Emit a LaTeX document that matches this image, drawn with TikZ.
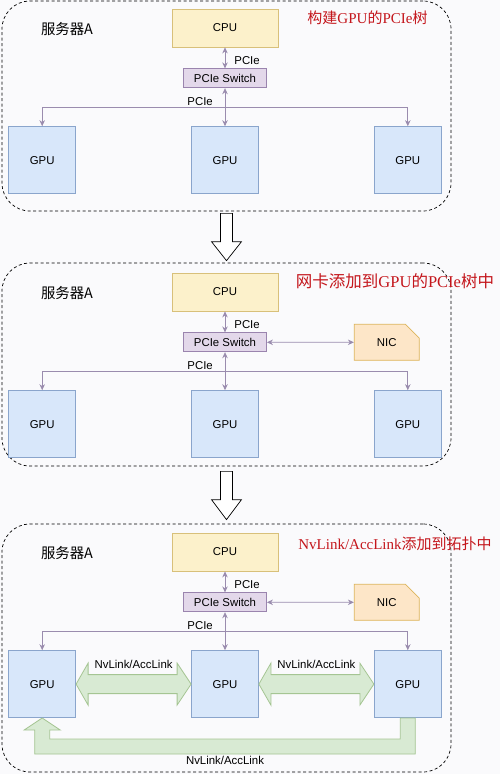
\documentclass[tikz,border=0pt]{standalone}
\usepackage{fontspec}
\setmainfont{Liberation Sans}
\newfontfamily\cjk{Noto Sans CJK SC}
\newfontfamily\titleserif{Liberation Serif}
\usetikzlibrary{positioning,calc,arrows.meta,shapes.misc}

\definecolor{bgcol}{HTML}{FAFAFC}
\definecolor{cpufill}{HTML}{FCF1CB}
\definecolor{cpuline}{HTML}{D8C07A}
\definecolor{swfill}{HTML}{E3D8EA}
\definecolor{swline}{HTML}{9A84AE}
\definecolor{gpufill}{HTML}{D8E7FA}
\definecolor{gpuline}{HTML}{8AA5CC}
\definecolor{nicfill}{HTML}{FDE6C8}
\definecolor{nicline}{HTML}{DDB45A}
\definecolor{nvfill}{HTML}{D8EAD3}
\definecolor{nvline}{HTML}{A5C593}
\definecolor{linkcol}{HTML}{9A8CAE}
\definecolor{titlered}{HTML}{C4161C}

\begin{document}
\begin{tikzpicture}[
        x=1pt, y=-1pt,
        >={Stealth[length=6pt,width=5.5pt]},
        box/.style={draw, line width=.8pt, inner sep=0pt, font=\fontsize{11.4}{13}\selectfont},
        cpubox/.style={box, fill=cpufill, draw=cpuline, minimum width=106pt, minimum height=38pt},
        swbox/.style={box, fill=swfill, draw=swline, minimum width=83pt, minimum height=19pt},
        gpubox/.style={box, fill=gpufill, draw=gpuline, minimum width=67pt, minimum height=67pt},
        nicbox/.style={box, fill=nicfill, draw=nicline, chamfered rectangle, chamfered rectangle corners=north east,
            chamfered rectangle sep=16pt, minimum width=65pt, minimum height=36pt},
        panel/.style={draw, dash pattern=on 3pt off 2.5pt, line width=.7pt, rounded corners=28pt, minimum width=449pt},
        pcie/.style={<->, draw=linkcol, line width=.8pt},
        nvlink/.style={draw=nvline, fill=nvfill, line width=.8pt},
        hollow/.style={draw, fill=white, line width=.7pt},
        lbl/.style={inner sep=1pt, font=\fontsize{11.4}{13}\selectfont},
        host/.style={inner sep=0pt, font=\cjk\fontsize{14.4}{16}\selectfont},
        title/.style={inner sep=0pt, text=titlered}
    ]
    \useasboundingbox (0,0) rectangle (500,774);
    \fill[bgcol] (0,0) rectangle (500,774);

    % --- Panels ---
    \node[panel, minimum height=210pt] (p1) at (226.5,106) {};
    \node[panel, minimum height=203pt] (p2) at (226.5,364.5) {};
    \node[panel, minimum height=248pt] (p3) at (226.5,648) {};

    % --- Step 1: PCIe tree ---
    \node[host] (host1) at (67,29) {服务器A};
    \node[title, font=\cjk\fontsize{15}{17}\selectfont] (t1) at (367.5,18) {构建{\titleserif GPU}的{\titleserif PCIe}树};
    \node[cpubox] (cpu1) at (225,28) {CPU};
    \node[swbox, below=21pt of cpu1] (sw1) {PCIe Switch};
    \node[gpubox, below=38pt of sw1] (g12) {GPU};
    \node[gpubox, left=115pt of g12] (g11) {GPU};
    \node[gpubox, right=115pt of g12] (g13) {GPU};

    \draw[pcie] (cpu1) -- node[lbl, right=8pt, pos=.65] {PCIe} (sw1);
    \draw[pcie] (sw1) -- (g12);
    \draw[pcie] (g11.north) -- ++(0,-19) -| node[lbl, above, pos=.216] {PCIe} (g13.north);

    % --- Step 2: NIC added ---
    \node[host] (host2) at (67,293) {服务器A};
    \node[title, font=\cjk\fontsize{16.5}{18}\selectfont] (t2) at (395,281) {网卡添加到{\titleserif GPU}的{\titleserif PCIe}树中};
    \node[cpubox] (cpu2) at (225,292) {CPU};
    \node[swbox, below=21pt of cpu2] (sw2) {PCIe Switch};
    \node[gpubox, below=38pt of sw2] (g22) {GPU};
    \node[gpubox, left=115pt of g22] (g21) {GPU};
    \node[gpubox, right=115pt of g22] (g23) {GPU};
    \node[nicbox, right=87pt of sw2] (nic2) {NIC};

    \draw[pcie] (cpu2) -- node[lbl, right=8pt, pos=.65] {PCIe} (sw2);
    \draw[pcie] (sw2) -- (g22);
    \draw[pcie] (sw2) -- (nic2);
    \draw[pcie] (g21.north) -- ++(0,-19) -| node[lbl, above, pos=.216] {PCIe} (g23.north);

    % --- Step 3: NvLink/AccLink added ---
    \node[host] (host3) at (67,553) {服务器A};
    \node[title, font=\cjk\fontsize{15}{17}\selectfont] (t3) at (395,544) {{\titleserif NvLink/AccLink}添加到拓扑中};
    \node[cpubox] (cpu3) at (225,552) {CPU};
    \node[swbox, below=21pt of cpu3] (sw3) {PCIe Switch};
    \node[gpubox, below=38pt of sw3] (g32) {GPU};
    \node[gpubox, left=115pt of g32] (g31) {GPU};
    \node[gpubox, right=115pt of g32] (g33) {GPU};
    \node[nicbox, right=87pt of sw3] (nic3) {NIC};

    \draw[pcie] (cpu3) -- node[lbl, right=8pt, pos=.65] {PCIe} (sw3);
    \draw[pcie] (sw3) -- (g32);
    \draw[pcie] (sw3) -- (nic3);
    \draw[pcie] (g31.north) -- ++(0,-19) -| node[lbl, above, pos=.216] {PCIe} (g33.north);

    % NvLink arrows
    \draw[nvlink] (g31.east) -- ++(12,-21) -- ++(0,11.5) -- ($(g32.west)+(-14,-9.5)$) -- ++(0,-11.5)
        -- (g32.west) -- ++(-14,21) -- ++(0,-11.5) -- ($(g31.east)+(12,9.5)$) -- ++(0,11.5) -- cycle;
    \draw[nvlink] (g32.east) -- ++(12,-21) -- ++(0,11.5) -- ($(g33.west)+(-14,-9.5)$) -- ++(0,-11.5)
        -- (g33.west) -- ++(-14,21) -- ++(0,-11.5) -- ($(g32.east)+(12,9.5)$) -- ++(0,11.5) -- cycle;
    \draw[nvlink] (g31.south) -- ++(18,12) -- ++(-10.5,0) -- ($(g31.south)+(7.5,21)$) -- ($(g33.south)+(-7.5,21)$)
        -- ($(g33.south)+(-7.5,0)$) -- ($(g33.south)+(7.5,0)$) -- ($(g33.south)+(7.5,36)$)
        -- ($(g31.south)+(-7.5,36)$) -- ($(g31.south)+(-7.5,12)$) -- ++(-10.5,0) -- cycle;
    \node[lbl, above=14pt] (nv1) at ($(g31.east)!.5!(g32.west)$) {NvLink/AccLink};
    \node[lbl, above=14pt] (nv2) at ($(g32.east)!.5!(g33.west)$) {NvLink/AccLink};
    \node[lbl, below=1pt] (nv3) at ($(g31.south)!.5!(g33.south)+(0,36)$) {NvLink/AccLink};

    % --- Step arrows ---
    \draw[hollow] ($(p1.south)+(-6,2)$) -- ++(12,0) -- ($(p2.north)+(6,-21)$) -- ++(9,0)
        -- ($(p2.north)+(0,-2)$) -- ++(-15,-19) -- ++(9,0) -- cycle;
    \draw[hollow] ($(p2.south)+(-6,5)$) -- ++(12,0) -- ($(p3.north)+(6,-24)$) -- ++(9,0)
        -- ($(p3.north)+(0,-4)$) -- ++(-15,-20) -- ++(9,0) -- cycle;

\end{tikzpicture}
\end{document}
